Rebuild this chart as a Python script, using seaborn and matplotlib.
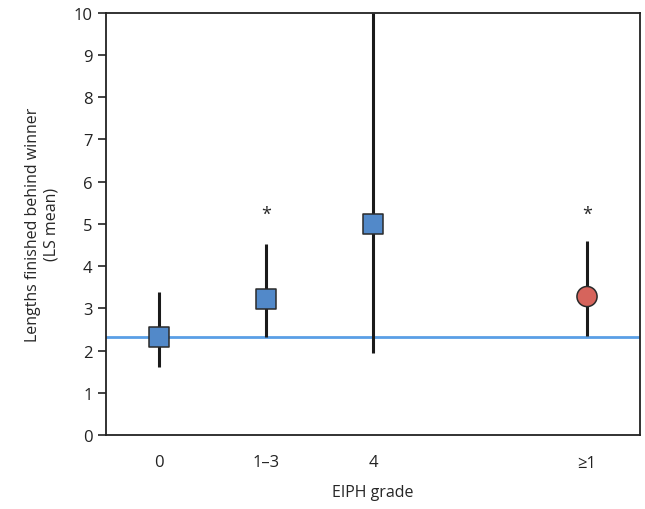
import matplotlib
matplotlib.use("Agg")
import matplotlib.pyplot as plt
import seaborn as sns
import pandas as pd

# data
grades = ["0", "1\u20133", "4", "\u22651"]
positions = [0, 1, 2, 4]
ls_mean = [2.32, 3.22, 5.0, 3.28]
ci_low = [1.61, 2.32, 1.94, 2.35]
ci_high = [3.38, 4.52, 10.0, 4.6]
group = ["grade", "grade", "grade", "any"]
significant = [False, True, False, True]
reference_level = 2.32

df = pd.DataFrame({"pos": positions, "mean": ls_mean, "lo": ci_low,
                   "hi": ci_high, "group": group})

sns.set_style("white")
plt.rcParams["font.family"] = ["Open Sans", "DejaVu Sans"]

fig = plt.figure(figsize=(6.45, 5.1), dpi=100)
ax = fig.add_axes([0.164, 0.145, 0.829, 0.828])

ax.axhline(reference_level, color="#5a9fe6", lw=2, zorder=1)
ax.vlines(df["pos"], df["lo"], df["hi"], color="#1a1a1a", lw=2.2, zorder=2)

sns.scatterplot(data=df, x="pos", y="mean", hue="group", style="group",
                palette={"grade": "#5289c9", "any": "#d6645c"},
                markers={"grade": "s", "any": "o"}, s=210,
                edgecolor="#2a2a2a", linewidth=1.1, legend=False,
                zorder=3, ax=ax)

for p, s in zip(positions, significant):
    if s:
        ax.text(p, 5.25, "*", ha="center", va="center", fontsize=13)

ax.set_xlim(-0.5, 4.5)
ax.set_ylim(0, 10)
ax.set_xticks(positions)
ax.set_xticklabels(grades)
ax.set_yticks(range(0, 11))
ax.tick_params(axis="x", length=0, pad=14, labelsize=12, colors="#222222")
ax.tick_params(axis="y", length=6, width=1.2, direction="out", left=True,
               labelsize=12, colors="#222222")
for sp in ax.spines.values():
    sp.set_color("#222222")
    sp.set_linewidth(1.3)

ax.set_xlabel("EIPH grade", fontsize=11.5, labelpad=10)
ax.set_ylabel("Lengths finished behind winner\n(LS mean)", fontsize=11.5,
              labelpad=10)

fig.savefig("out.png", dpi=100)
